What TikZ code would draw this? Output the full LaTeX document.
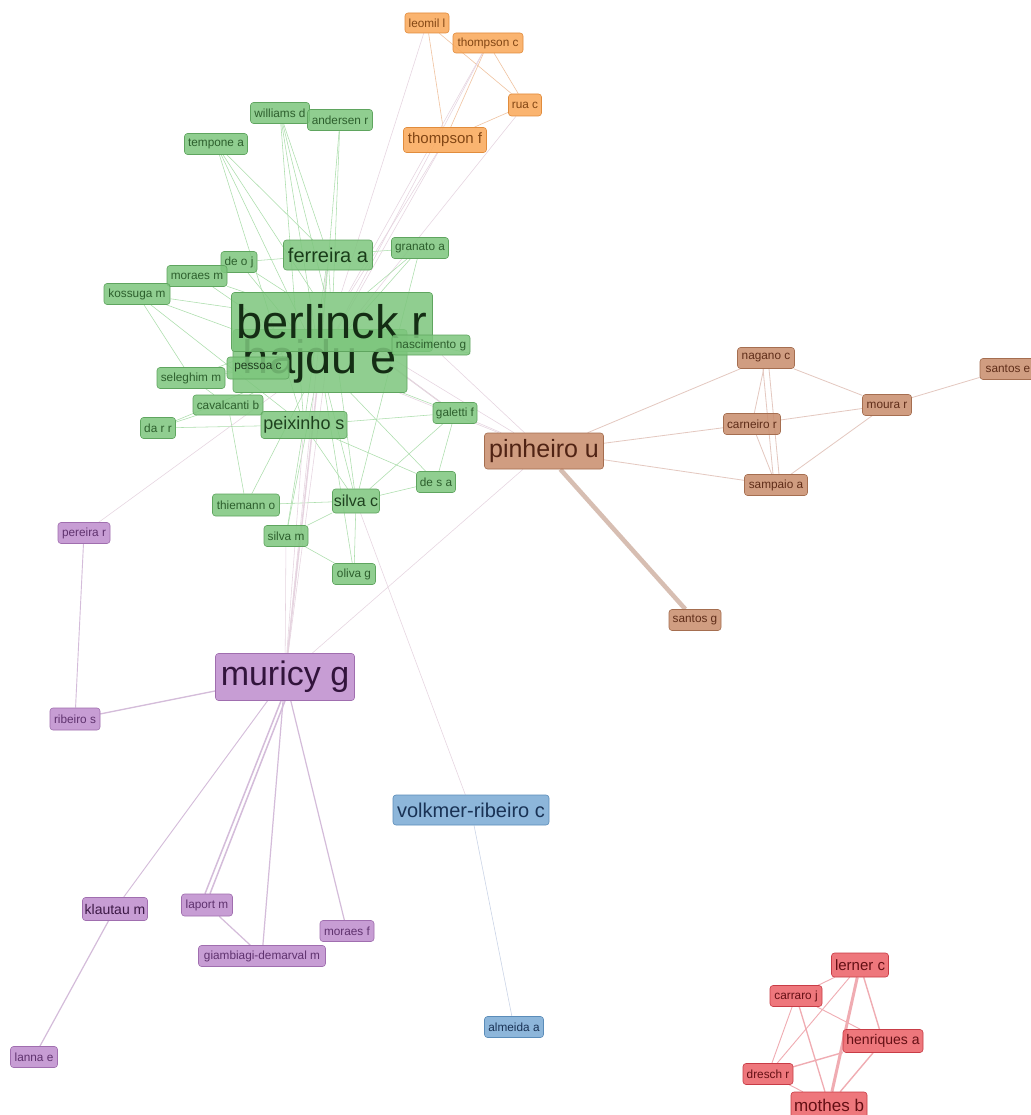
\documentclass[tikz,border=0pt]{standalone}
\usepackage{fontspec}
\setmainfont{Liberation Sans}
\usetikzlibrary{backgrounds}
\newcommand\fsz[1]{\fontsize{#1}{#1}\selectfont}
\definecolor{gfill}{RGB}{125,198,125}\definecolor{gdraw}{RGB}{95,165,95}\definecolor{gtext}{RGB}{45,95,45}
\definecolor{ofill}{RGB}{250,168,88}\definecolor{odraw}{RGB}{225,140,60}\definecolor{otext}{RGB}{130,70,20}
\definecolor{bfill}{RGB}{200,140,108}\definecolor{bdraw}{RGB}{165,110,80}\definecolor{btext}{RGB}{95,45,25}
\definecolor{pfill}{RGB}{190,140,205}\definecolor{pdraw}{RGB}{160,110,175}\definecolor{ptext}{RGB}{95,50,110}
\definecolor{lfill}{RGB}{122,170,212}\definecolor{ldraw}{RGB}{90,140,185}\definecolor{ltext}{RGB}{25,50,85}
\definecolor{rfill}{RGB}{236,96,102}\definecolor{rdraw}{RGB}{200,60,70}\definecolor{rtext}{RGB}{100,15,20}
\definecolor{gedge}{RGB}{172,222,172}\definecolor{xedge}{RGB}{230,212,224}\definecolor{oedge}{RGB}{240,195,160}
\definecolor{bedge}{RGB}{228,200,192}\definecolor{pedge}{RGB}{212,188,218}\definecolor{redge}{RGB}{240,172,178}
\tikzset{
 base/.style={rounded corners=3pt, draw, line width=0.6pt, inner sep=0pt, fill opacity=0.85, text opacity=1, font=\fsz{11.8}},
 G/.style={base, fill=gfill, draw=gdraw, text=gtext},
 O/.style={base, fill=ofill, draw=odraw, text=otext},
 B/.style={base, fill=bfill, draw=bdraw, text=btext},
 P/.style={base, fill=pfill, draw=pdraw, text=ptext},
 L/.style={base, fill=lfill, draw=ldraw, text=ltext},
 R/.style={base, fill=rfill, draw=rdraw, text=rtext},
 ge/.style={draw=gedge, line width=0.55pt},
 xe/.style={draw=xedge, line width=0.55pt},
 oe/.style={draw=oedge, line width=0.6pt},
 be/.style={draw=bedge, line width=0.8pt},
 pe/.style={draw=pedge, line width=0.9pt},
 re/.style={draw=redge, line width=0.9pt},
}
\begin{document}
\begin{tikzpicture}[x=1pt,y=-1pt]
\useasboundingbox (0,0) rectangle (1030,1115);
% ---- orange
\node[O, minimum width=44pt, minimum height=20pt] (leomil) at (427,23) {leomil l};
\node[O, minimum width=70pt, minimum height=20pt] (thompc) at (488,43) {thompson c};
\node[O, minimum width=33pt, minimum height=22pt] (rua) at (525,105) {rua c};
\node[O, minimum width=83pt, minimum height=25pt, font=\fsz{15}] (thompf) at (445,140) {thompson f};
% ---- green
\node[G, minimum width=59pt, minimum height=21pt] (williams) at (280,113) {williams d};
\node[G, minimum width=65pt, minimum height=21pt] (andersen) at (340,120) {andersen r};
\node[G, minimum width=63pt, minimum height=21pt] (tempone) at (216,144) {tempone a};
\node[G, minimum width=89pt, minimum height=30pt, font=\fsz{20}, text={rgb,255:red,25;green,60;blue,25}] (ferreira) at (328,255) {ferreira a};
\node[G, minimum width=57pt, minimum height=21pt] (granato) at (420,248) {granato a};
\node[G, minimum width=36pt, minimum height=21pt] (deoj) at (239,262) {de o j};
\node[G, minimum width=60pt, minimum height=21pt] (moraesm) at (197,276) {moraes m};
\node[G, minimum width=66pt, minimum height=21pt] (kossuga) at (137,294) {kossuga m};
\node[G, minimum width=174pt, minimum height=63pt, font=\fsz{47}, text={rgb,255:red,20;green,45;blue,20}] (hajdu) at (320,361) {hajdu e};
\node[G, minimum width=201pt, minimum height=59pt, font=\fsz{47}, text={rgb,255:red,20;green,45;blue,20}] (berlinck) at (332,322) {berlinck r};
\node[G, minimum width=62pt, minimum height=22pt, text={rgb,255:red,30;green,60;blue,30}] (pessoa) at (258,368) {pessoa c};
\node[G, minimum width=78pt, minimum height=20pt] (nascimento) at (431,345) {nascimento g};
\node[G, minimum width=68pt, minimum height=21pt] (seleghim) at (191,378) {seleghim m};
\node[G, minimum width=70pt, minimum height=20pt] (cavalcanti) at (228,405) {cavalcanti b};
\node[G, minimum width=35pt, minimum height=21pt] (darr) at (158,428) {da r r};
\node[G, minimum width=86pt, minimum height=27pt, font=\fsz{18}, text={rgb,255:red,30;green,65;blue,30}] (peixinho) at (304,425) {peixinho s};
\node[G, minimum width=44pt, minimum height=21pt] (galetti) at (455,413) {galetti f};
\node[G, minimum width=39pt, minimum height=21pt] (desa) at (436,482) {de s a};
\node[G, minimum width=47pt, minimum height=24pt, font=\fsz{16}, text={rgb,255:red,30;green,65;blue,30}] (silvac) at (356,501) {silva c};
\node[G, minimum width=67pt, minimum height=22pt] (thiemann) at (246,505) {thiemann o};
\node[G, minimum width=44pt, minimum height=21pt] (silvam) at (286,536) {silva m};
\node[G, minimum width=43pt, minimum height=21pt] (oliva) at (354,574) {oliva g};
% ---- brown
\node[B, minimum width=119pt, minimum height=36pt, font=\fsz{25}, text={rgb,255:red,80;green,35;blue,20}] (pinheiro) at (544,451) {pinheiro u};
\node[B, minimum width=57pt, minimum height=21pt] (nagano) at (766,358) {nagano c};
\node[B, minimum width=57pt, minimum height=21pt] (carneiro) at (752,424) {carneiro r};
\node[B, minimum width=63pt, minimum height=21pt] (sampaio) at (776,485) {sampaio a};
\node[B, minimum width=49pt, minimum height=21pt] (moura) at (887,405) {moura r};
\node[B, minimum width=56pt, minimum height=21pt] (santose) at (1008,369) {santos e};
\node[B, minimum width=52pt, minimum height=21pt] (santosg) at (695,620) {santos g};
% ---- purple
\node[P, minimum width=52pt, minimum height=21pt] (pereira) at (84,533) {pereira r};
\node[P, minimum width=139pt, minimum height=47pt, font=\fsz{34}, text={rgb,255:red,50;green,20;blue,60}] (muricy) at (285,677) {muricy g};
\node[P, minimum width=50pt, minimum height=22pt] (ribeiro) at (75,719) {ribeiro s};
\node[P, minimum width=65pt, minimum height=23pt, font=\fsz{14}, text={rgb,255:red,60;green,25;blue,70}] (klautau) at (115,909) {klautau m};
\node[P, minimum width=51pt, minimum height=22pt] (laport) at (207,905) {laport m};
\node[P, minimum width=127pt, minimum height=21pt] (giamb) at (262,956) {giambiagi-demarval m};
\node[P, minimum width=54pt, minimum height=21pt] (moraesf) at (347,931) {moraes f};
\node[P, minimum width=47pt, minimum height=21pt] (lanna) at (34,1057) {lanna e};
% ---- blue
\node[L, minimum width=156pt, minimum height=30pt, font=\fsz{20}] (volkmer) at (471,810) {volkmer-ribeiro c};
\node[L, minimum width=59pt, minimum height=21pt] (almeida) at (514,1027) {almeida a};
% ---- red
\node[R, minimum width=57pt, minimum height=24pt, font=\fsz{15}] (lerner) at (860,965) {lerner c};
\node[R, minimum width=52pt, minimum height=21pt] (carraro) at (796,996) {carraro j};
\node[R, minimum width=80pt, minimum height=23pt, font=\fsz{14}] (henriques) at (883,1041) {henriques a};
\node[R, minimum width=50pt, minimum height=21pt] (dresch) at (768,1074) {dresch r};
\node[R, minimum width=76pt, minimum height=26pt, font=\fsz{17}] (mothes) at (829,1105) {mothes b};
% ---- edges
\begin{pgfonlayer}{background}
\fill[white] (0,0) rectangle (1030,1115);
% orange
\draw[oe] (leomil) -- (thompf);
\draw[oe] (leomil) -- (rua);
\draw[oe] (thompc) -- (thompf);
\draw[oe] (thompc) -- (rua);
\draw[oe] (rua) -- (thompf);
\draw[xe] (leomil) -- (berlinck);
\draw[xe] (thompc) -- (berlinck);
\draw[xe] (thompc) -- (hajdu);
\draw[xe] (thompf) -- (berlinck);
\draw[xe] (thompf) -- (hajdu);
\draw[xe] (rua) -- (hajdu);
% green
\foreach \a/\b in {tempone/ferreira, tempone/berlinck, tempone/hajdu, tempone/peixinho,
  williams/berlinck, williams/hajdu, williams/peixinho, williams/ferreira,
  andersen/berlinck, andersen/hajdu,
  ferreira/berlinck, ferreira/hajdu, ferreira/granato, ferreira/deoj, ferreira/peixinho,
  granato/berlinck, granato/hajdu, granato/silvac,
  deoj/berlinck, deoj/hajdu, deoj/moraesm,
  moraesm/berlinck, moraesm/hajdu, moraesm/kossuga,
  kossuga/berlinck, kossuga/hajdu, kossuga/seleghim, kossuga/peixinho,
  nascimento/berlinck, nascimento/hajdu,
  seleghim/berlinck, seleghim/hajdu, seleghim/cavalcanti,
  cavalcanti/hajdu, cavalcanti/darr, cavalcanti/peixinho, cavalcanti/thiemann,
  darr/hajdu, darr/peixinho,
  galetti/hajdu, galetti/berlinck, galetti/peixinho, galetti/desa, galetti/silvac,
  desa/hajdu, desa/silvac, desa/peixinho,
  silvac/hajdu, silvac/berlinck, silvac/peixinho, silvac/thiemann, silvac/silvam, silvac/oliva,
  thiemann/hajdu, silvam/hajdu, silvam/oliva, silvam/peixinho, oliva/hajdu, pessoa/hajdu, pessoa/berlinck}
  \draw[ge] (\a) -- (\b);
% cross to pinheiro
\draw[xe] (hajdu) -- (pinheiro);
\draw[xe, line width=1.2pt] (berlinck) -- (galetti);
\draw[xe] (berlinck) -- (pinheiro);
\draw[xe] (nascimento) -- (pinheiro);
\draw[xe] (galetti) -- (pinheiro);
\draw[xe] (pinheiro) -- (muricy);
\draw[xe] (silvac) -- (volkmer);
\draw[xe] (pereira) -- (hajdu);
% brown
\draw[be] (pinheiro) -- (nagano);
\draw[be] (pinheiro) -- (carneiro);
\draw[be] (pinheiro) -- (sampaio);
\draw[be, line width=4.5pt, draw={rgb,255:red,215;green,190;blue,178}] (pinheiro) -- (santosg);
\draw[be] (nagano) -- (carneiro);
\draw[be] ([xshift=-3pt]nagano.south) -- ([xshift=-3pt]sampaio.north);
\draw[be] ([xshift=3pt]nagano.south) -- ([xshift=3pt]sampaio.north);
\draw[be] (nagano) -- (moura);
\draw[be] (carneiro) -- (sampaio);
\draw[be] (carneiro) -- (moura);
\draw[be] (sampaio) -- (moura);
\draw[be] (moura) -- (santose);
% purple
\draw[pe] (pereira) -- (ribeiro);
\draw[pe, line width=1.3pt] (ribeiro) -- (muricy);
\draw[pe, line width=1.5pt] ([xshift=-4pt]muricy.south) -- ([xshift=-2pt]laport.north);
\draw[pe, line width=1.5pt] ([xshift=0pt]muricy.south) -- ([xshift=3pt]laport.north);
\draw[pe, line width=1.2pt] (muricy) -- (giamb);
\draw[pe, line width=1.2pt] (muricy) -- (moraesf);
\draw[pe, line width=1.2pt] (laport) -- (giamb);
\draw[pe] (klautau) -- (muricy);
\draw[pe, line width=1.2pt] (klautau) -- (lanna);
\draw[xe, line width=1.5pt] (muricy) -- (hajdu);
\draw[xe] (muricy) -- (berlinck);
\draw[xe] (muricy) -- (peixinho);
\draw[xe] (muricy) -- (silvam);
\draw[xe] (muricy) -- (ferreira);
% blue
\draw[xe, draw={rgb,255:red,200;green,210;blue,230}] (volkmer) -- (almeida);
% red
\draw[re] (lerner) -- (carraro);
\draw[re, line width=1.4pt] (lerner) -- (henriques);
\draw[re, line width=3pt] (lerner) -- (mothes);
\draw[re] (lerner) -- (dresch);
\draw[re] (carraro) -- (henriques);
\draw[re] (carraro) -- (dresch);
\draw[re, line width=1.3pt] (carraro) -- (mothes);
\draw[re, line width=1.4pt] (henriques) -- (dresch);
\draw[re, line width=1.4pt] (henriques) -- (mothes);
\draw[re] (dresch) -- (mothes);
\end{pgfonlayer}
\end{tikzpicture}
\end{document}
